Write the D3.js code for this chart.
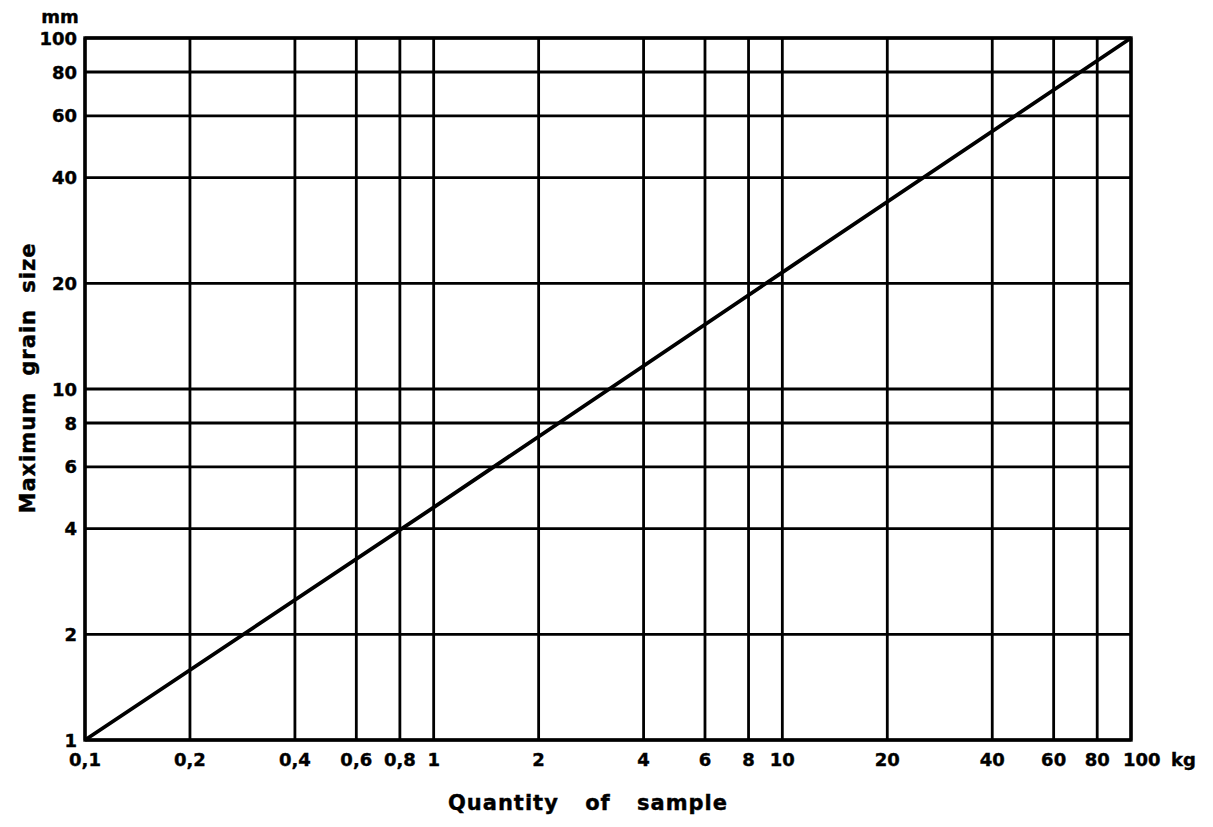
<!DOCTYPE html>
<html lang="en">
<head>
<meta charset="utf-8">
<title>Maximum grain size vs quantity of sample</title>
<script src="https://d3js.org/d3.v7.min.js"></script>
<style>
  body { margin: 0; background: #fff; }
  text { font-family: "DejaVu Sans", sans-serif; font-weight: bold; fill: #000; stroke: #000; stroke-width: 0.4px; }
</style>
</head>
<body>
<div id="chart"></div>
<script>
var w = 1213;
var h = 827;

// x: quantity of sample (kg), y: maximum grain size (mm)
var xTicks = [0.1, 0.2, 0.4, 0.6, 0.8, 1, 2, 4, 6, 8, 10, 20, 40, 60, 80, 100];
var xTickLabels = ["0,1", "0,2", "0,4", "0,6", "0,8", "1", "2", "4", "6", "8", "10", "20", "40", "60", "80", "100"];
var yTicks = [1, 2, 4, 6, 8, 10, 20, 40, 60, 80, 100];
var yTickLabels = ["1", "2", "4", "6", "8", "10", "20", "40", "60", "80", "100"];

// points
var sampleKg = [0.1, 1, 10, 100];
var grainMm = [1, 4.6, 21.5, 100];

var margin = {left: 85, right: 82, top: 38, bottom: 87};

var svg = d3.select("#chart").append("svg")
  .attr("width", w)
  .attr("height", h);

var x = d3.scaleLog()
  .domain([0.1, 100])
  .range([margin.left, w - margin.right]);

var y = d3.scaleLog()
  .domain([1, 100])
  .range([h - margin.bottom, margin.top]);

// vertical grid lines
svg.append("g")
  .selectAll("line")
  .data(xTicks)
  .enter().append("line")
  .attr("x1", function(d) { return x(d); })
  .attr("x2", function(d) { return x(d); })
  .attr("y1", y(1))
  .attr("y2", y(100))
  .attr("stroke", "#000")
  .attr("stroke-width", 2.8);

// horizontal grid lines
svg.append("g")
  .selectAll("line")
  .data(yTicks)
  .enter().append("line")
  .attr("x1", x(0.1))
  .attr("x2", x(100))
  .attr("y1", function(d) { return y(d); })
  .attr("y2", function(d) { return y(d); })
  .attr("stroke", "#000")
  .attr("stroke-width", 2.8);

// frame
svg.append("rect")
  .attr("x", x(0.1))
  .attr("y", y(100))
  .attr("width", x(100) - x(0.1))
  .attr("height", y(1) - y(100))
  .attr("fill", "none")
  .attr("stroke", "#000")
  .attr("stroke-width", 3.4);

// the line
var pts = sampleKg.map(function(d, i) { return [d, grainMm[i]]; });
svg.append("path")
  .datum(pts)
  .attr("fill", "none")
  .attr("stroke", "#000")
  .attr("stroke-width", 3.8)
  .attr("d", d3.line()
    .x(function(d) { return x(d[0]); })
    .y(function(d) { return y(d[1]); }));

// x tick labels
svg.append("g")
  .selectAll("text")
  .data(xTicks)
  .enter().append("text")
  .attr("x", function(d, i) { return i == xTicks.length - 1 ? x(d) - 8 : x(d); })
  .attr("y", 766)
  .attr("text-anchor", function(d, i) { return i == xTicks.length - 1 ? "start" : "middle"; })
  .attr("font-size", 18)
  .text(function(d, i) { return xTickLabels[i]; });

svg.append("text")
  .attr("x", x(100) + 40)
  .attr("y", 766)
  .attr("font-size", 18)
  .text("kg");

// y tick labels
svg.append("g")
  .selectAll("text")
  .data(yTicks)
  .enter().append("text")
  .attr("x", 77)
  .attr("y", function(d) { return y(d) + 6.5; })
  .attr("text-anchor", "end")
  .attr("font-size", 18)
  .text(function(d, i) { return yTickLabels[i]; });

svg.append("text")
  .attr("x", 60)
  .attr("y", 23)
  .attr("text-anchor", "middle")
  .attr("font-size", 18)
  .text("mm");

// axis titles
svg.append("text")
  .attr("x", 588)
  .attr("y", 810)
  .attr("text-anchor", "middle")
  .attr("font-size", 21)
  .attr("letter-spacing", 1)
  .attr("word-spacing", 18)
  .text("Quantity of sample");

svg.append("text")
  .attr("transform", "translate(35,378) rotate(-90)")
  .attr("text-anchor", "middle")
  .attr("font-size", 21)
  .attr("letter-spacing", 1)
  .attr("word-spacing", 8)
  .text("Maximum grain size");
</script>
</body>
</html>
